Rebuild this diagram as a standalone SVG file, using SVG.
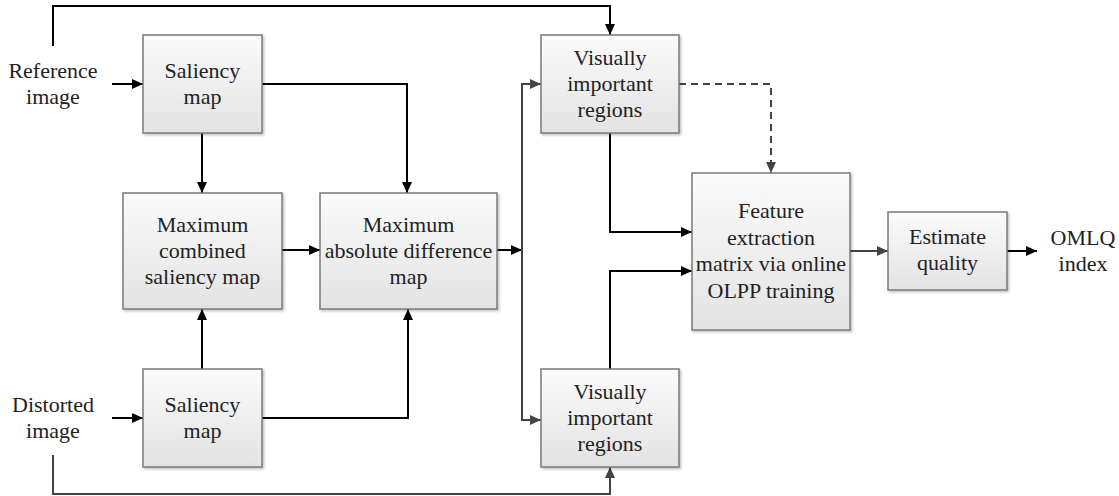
<svg xmlns="http://www.w3.org/2000/svg" width="1119" height="496" viewBox="0 0 1119 496">
<style>
text{font-family:"Liberation Serif","Times New Roman",serif;font-size:22px;fill:#222;text-anchor:middle}
.box{fill:url(#g);stroke:#7a7a7a;stroke-width:1.5;filter:url(#sh)}
.c{fill:none;stroke:#000;stroke-width:2;marker-end:url(#ab)}
.cg{fill:none;stroke:#444;stroke-width:2;marker-end:url(#ag)}
.n{fill:none;stroke:#000;stroke-width:2}
.d{fill:none;stroke:#444;stroke-width:2;stroke-dasharray:7,5;marker-end:url(#ag)}
</style>
<defs>
<linearGradient id="g" x1="0" y1="0" x2="0" y2="1"><stop offset="0" stop-color="#fbfbfb"/><stop offset="1" stop-color="#e3e3e3"/></linearGradient>
<filter id="sh" x="-10%" y="-10%" width="130%" height="130%"><feDropShadow dx="1.5" dy="1.5" stdDeviation="1" flood-color="#000" flood-opacity="0.25"/></filter>
<marker id="ab" markerUnits="userSpaceOnUse" markerWidth="12" markerHeight="10" refX="11" refY="5" orient="auto"><path d="M0,0 L11,5 L0,10 z" fill="#000"/></marker>
<marker id="ag" markerUnits="userSpaceOnUse" markerWidth="12" markerHeight="10" refX="11" refY="5" orient="auto"><path d="M0,0 L11,5 L0,10 z" fill="#444"/></marker>
</defs>
<g id="connectors">
<path class="c" d="M53,46 V6 H610 V35"/>
<path class="cg" d="M53,455 V494 H610 V467"/>
<path class="c" d="M112,84 H143"/>
<path class="c" d="M112,418 H143"/>
<path class="c" d="M262,84 H407 V193"/>
<path class="c" d="M202,133 V193"/>
<path class="c" d="M202,369 V309"/>
<path class="c" d="M262,418 H408 V309"/>
<path class="c" d="M282,250 H320"/>
<path class="c" d="M497,250 H522"/>
<path class="cg" d="M522,250 V84 H541"/>
<path class="cg" d="M522,250 V420 H541"/>
<path class="c" d="M610,133 V232 H692"/>
<path class="c" d="M610,369 V271 H692"/>
<path class="d" d="M679,84 H771 V173"/>
<path class="cg" d="M850,251 H888"/>
<path class="c" d="M1007,251 H1037"/>
</g>
<g id="ref-label"><text x="53" y="78">Reference</text><text x="53" y="104">image</text></g>
<g id="dist-label"><text x="53" y="412">Distorted</text><text x="53" y="438">image</text></g>
<g id="sal-top"><rect class="box" x="143" y="35" width="119" height="98"/><text x="202.5" y="78">Saliency</text><text x="202.5" y="104">map</text></g>
<g id="sal-bot"><rect class="box" x="143" y="369" width="119" height="98"/><text x="202.5" y="412">Saliency</text><text x="202.5" y="438">map</text></g>
<g id="max-comb"><rect class="box" x="123" y="193" width="159" height="116"/><text x="202.5" y="232">Maximum</text><text x="202.5" y="258">combined</text><text x="202.5" y="284">saliency map</text></g>
<g id="max-abs"><rect class="box" x="320" y="193" width="177" height="116"/><text x="408.5" y="232">Maximum</text><text x="408.5" y="258">absolute difference</text><text x="408.5" y="284">map</text></g>
<g id="vir-top"><rect class="box" x="541" y="35" width="138" height="98"/><text x="610" y="65">Visually</text><text x="610" y="91">important</text><text x="610" y="117">regions</text></g>
<g id="vir-bot"><rect class="box" x="541" y="369" width="138" height="98"/><text x="610" y="399">Visually</text><text x="610" y="425">important</text><text x="610" y="451">regions</text></g>
<g id="feature"><rect class="box" x="692" y="173" width="158" height="157"/><text x="771" y="218">Feature</text><text x="771" y="244.5">extraction</text><text x="771" y="271">matrix via online</text><text x="771" y="297.5">OLPP training</text></g>
<g id="estimate"><rect class="box" x="888" y="212" width="119" height="78"/><text x="947.5" y="244">Estimate</text><text x="947.5" y="270">quality</text></g>
<g id="omlq"><text x="1083" y="245">OMLQ</text><text x="1083" y="271">index</text></g>
</svg>
